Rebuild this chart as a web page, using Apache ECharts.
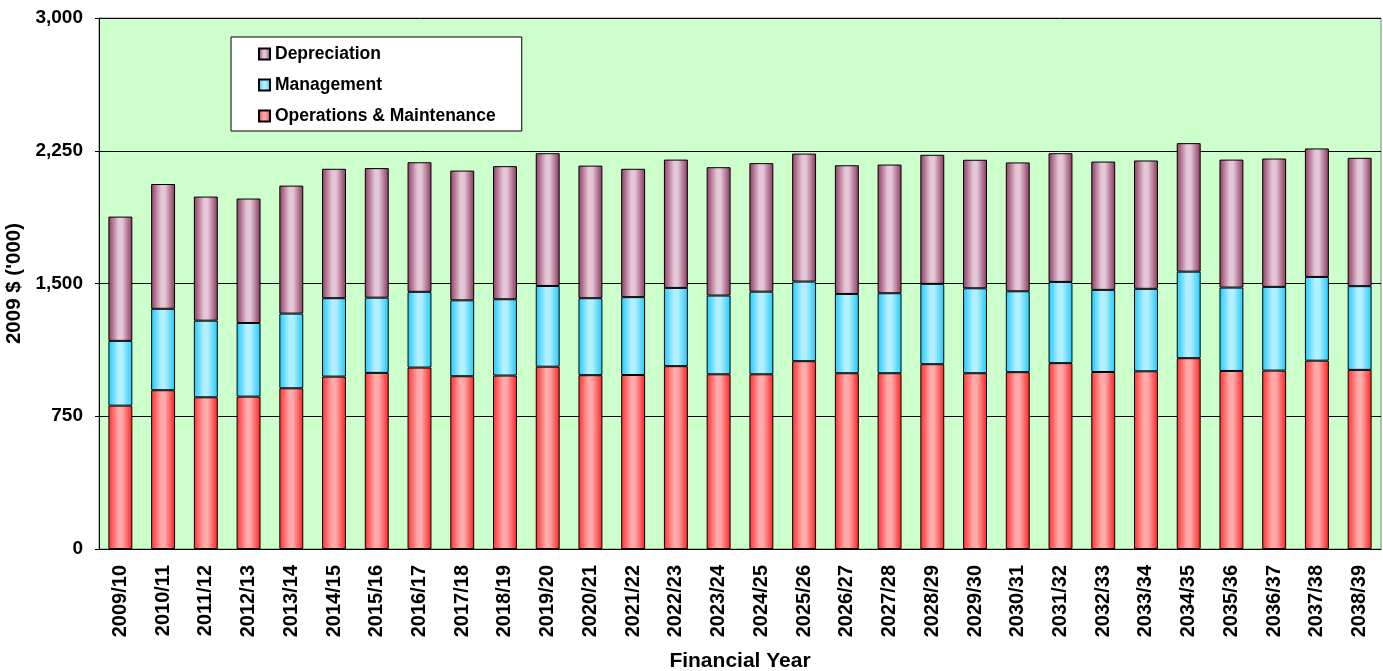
<!DOCTYPE html>
<html>
<head>
<meta charset="utf-8">
<title>Operating Costs by Financial Year</title>
<script src="https://cdn.jsdelivr.net/npm/echarts@6/dist/echarts.min.js"></script>
<style>
  html, body { margin: 0; padding: 0; background: #ffffff; }
  #chart { width: 1383px; height: 671px; }
</style>
</head>
<body>
<div id="chart"></div>
<script>
// Financial years on the category axis
const years = [
  '2009/10', '2010/11', '2011/12', '2012/13', '2013/14', '2014/15',
  '2015/16', '2016/17', '2017/18', '2018/19', '2019/20', '2020/21',
  '2021/22', '2022/23', '2023/24', '2024/25', '2025/26', '2026/27',
  '2027/28', '2028/29', '2029/30', '2030/31', '2031/32', '2032/33',
  '2033/34', '2034/35', '2035/36', '2036/37', '2037/38', '2038/39'
];

// Cost components, 2009 $ ('000)
const operationsMaintenance = [
  810, 897, 857, 861, 908, 974, 995, 1025, 976, 980,
  1030, 982, 983, 1033, 987, 987, 1061, 993, 993, 1044,
  993, 999, 1050, 1000, 1004, 1078, 1006, 1008, 1064, 1012
];
const management = [
  366, 460, 433, 416, 422, 443, 425, 428, 429, 431,
  456, 435, 440, 442, 445, 467, 450, 448, 452, 454,
  480, 457, 459, 464, 466, 489, 471, 473, 473, 473
];
const depreciation = [
  702, 705, 701, 703, 723, 731, 732, 732, 733, 752,
  750, 749, 725, 725, 725, 726, 723, 727, 727, 729,
  726, 728, 727, 725, 725, 726, 723, 725, 726, 725
];

// Value axis ticks
const yTicks = [0, 750, 1500, 2250, 3000];

const FONT = '"Liberation Sans", Arial, sans-serif';

// Horizontal shading across each bar: dark edges, light centre
function shade(edgeL, mid, edgeR) {
  return {
    type: 'linear', x: 0, y: 0, x2: 1, y2: 0,
    colorStops: [
      { offset: 0, color: edgeL },
      { offset: 0.42, color: mid },
      { offset: 0.58, color: mid },
      { offset: 1, color: edgeR }
    ]
  };
}

const barStyle = (fill) => ({
  color: fill,
  borderColor: '#000000',
  borderWidth: 1
});

const chart = echarts.init(document.getElementById('chart'));

chart.setOption({
  backgroundColor: '#ffffff',
  animation: false,
  textStyle: { fontFamily: FONT },
  grid: {
    left: 99, right: 2, top: 18, bottom: 122,
    outerBoundsMode: 'none',
    show: true,
    backgroundColor: '#ccffcc',
    borderColor: '#808080',
    borderWidth: 1
  },
  legend: {
    data: ['Depreciation', 'Management', 'Operations & Maintenance'],
    orient: 'vertical',
    left: 231,
    top: 37,
    backgroundColor: '#ffffff',
    borderColor: '#000000',
    borderWidth: 1,
    padding: [8, 26, 6, 27],
    itemGap: 13,
    itemWidth: 11,
    itemHeight: 11,
    icon: 'rect',
    textStyle: {
      fontFamily: FONT,
      fontSize: 17.5,
      fontWeight: 'bold',
      color: '#000000',
      lineHeight: 18
    }
  },
  xAxis: {
    type: 'category',
    data: years,
    name: 'Financial Year',
    nameLocation: 'middle',
    nameGap: 102,
    nameTextStyle: { fontFamily: FONT, fontSize: 21, fontWeight: 'bold', color: '#000000' },
    axisLine: { show: true, lineStyle: { color: '#000000', width: 1 } },
    axisTick: { show: false },
    axisLabel: {
      rotate: 90,
      margin: 16,
      interval: 0,
      fontFamily: FONT,
      fontSize: 20,
      fontWeight: 'bold',
      color: '#000000'
    }
  },
  yAxis: {
    type: 'value',
    min: yTicks[0],
    max: yTicks[yTicks.length - 1],
    interval: yTicks[1] - yTicks[0],
    name: "2009 $ ('000)",
    nameLocation: 'middle',
    nameGap: 73,
    nameRotate: 90,
    nameTextStyle: { fontFamily: FONT, fontSize: 20.5, fontWeight: 'bold', color: '#000000' },
    axisLine: { show: true, lineStyle: { color: '#000000', width: 1 } },
    axisTick: { show: true, inside: false, length: 4, lineStyle: { color: '#000000' } },
    axisLabel: {
      margin: 16,
      fontFamily: FONT,
      fontSize: 19,
      fontWeight: 'bold',
      color: '#000000',
      formatter: (v) => v.toLocaleString('en-US')
    },
    splitLine: { show: true, lineStyle: { color: '#000000', width: 1 } }
  },
  series: [
    {
      name: 'Operations & Maintenance',
      type: 'bar',
      stack: 'cost',
      barWidth: '56%',
      data: operationsMaintenance,
      itemStyle: barStyle(shade('#ff2e2e', '#ffaaaa', '#ff2020'))
    },
    {
      name: 'Management',
      type: 'bar',
      stack: 'cost',
      barWidth: '56%',
      data: management,
      itemStyle: barStyle(shade('#1ec8ff', '#b3f0ff', '#1ec8ff'))
    },
    {
      name: 'Depreciation',
      type: 'bar',
      stack: 'cost',
      barWidth: '56%',
      data: depreciation,
      itemStyle: barStyle(shade('#8e3a62', '#e4c6d6', '#8a355e'))
    }
  ]
});
</script>
</body>
</html>
